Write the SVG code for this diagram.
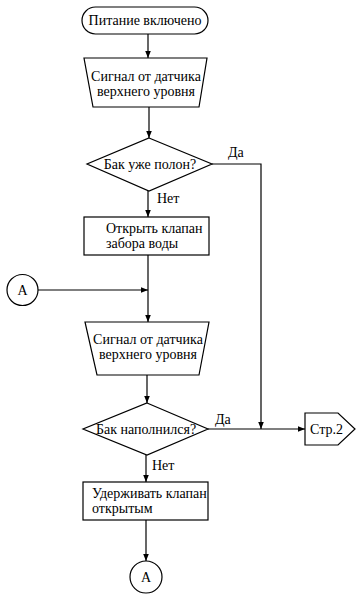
<svg xmlns="http://www.w3.org/2000/svg" width="360" height="600" viewBox="0 0 360 600">
<style>
.s{fill:#fff;stroke:#000;stroke-width:1.2}
.c{fill:none;stroke:#000;stroke-width:1.2}
.t{font-family:"Liberation Serif",serif;font-size:14px;fill:#000}
.m{text-anchor:middle}
</style>
<defs>
<marker id="ar" viewBox="0 0 10 10" refX="10" refY="5" markerWidth="7" markerHeight="7" markerUnits="userSpaceOnUse" orient="auto">
<path d="M0,1 L10,5 L0,9 Z" fill="#000"/>
</marker>
</defs>
<rect width="360" height="600" fill="#fff"/>
<g id="connectors">
<line class="c" x1="148" y1="34" x2="148" y2="58" marker-end="url(#ar)"/>
<line class="c" x1="149" y1="107" x2="149" y2="138" marker-end="url(#ar)"/>
<polyline class="c" points="212,164 261,164 261,429" marker-end="url(#ar)"/>
<line class="c" x1="148" y1="191" x2="148" y2="217" marker-end="url(#ar)"/>
<line class="c" x1="148" y1="255" x2="148" y2="322" marker-end="url(#ar)"/>
<line class="c" x1="38" y1="290" x2="148" y2="290" marker-end="url(#ar)"/>
<line class="c" x1="147" y1="375" x2="147" y2="403" marker-end="url(#ar)"/>
<line class="c" x1="208" y1="429" x2="305" y2="429" marker-end="url(#ar)"/>
<line class="c" x1="146" y1="455" x2="146" y2="482" marker-end="url(#ar)"/>
<line class="c" x1="146" y1="520" x2="146" y2="561" marker-end="url(#ar)"/>
<text class="t" x="228" y="157">Да</text>
<text class="t" x="157" y="203">Нет</text>
<text class="t" x="215" y="424">Да</text>
<text class="t" x="152" y="470">Нет</text>
</g>
<g id="start">
<rect class="s" x="82" y="7" width="126" height="27" rx="13.5"/>
<text class="t m" x="145" y="25">Питание включено</text>
</g>
<g id="input1">
<polygon class="s" points="84,58 207,58 199,107 93,107"/>
<text class="t m" x="146" y="81">Сигнал от датчика</text>
<text class="t m" x="146" y="96">верхнего уровня</text>
</g>
<g id="decision1">
<polygon class="s" points="149,138 212,164 149,191 87,164"/>
<text class="t m" x="150" y="169">Бак уже полон?</text>
</g>
<g id="open">
<rect class="s" x="84" y="217" width="125" height="38"/>
<text class="t" x="106" y="233">Открыть клапан</text>
<text class="t" x="106" y="248">забора воды</text>
</g>
<g id="connA_in">
<circle class="s" cx="22.5" cy="290" r="15.5"/>
<text class="t m" x="22.5" y="295">A</text>
</g>
<g id="input2">
<polygon class="s" points="85,322 209,322 199,375 97,375"/>
<text class="t m" x="148" y="344">Сигнал от датчика</text>
<text class="t m" x="148" y="359">верхнего уровня</text>
</g>
<g id="decision2">
<polygon class="s" points="147,403 208,429 147,455 83,429"/>
<text class="t m" x="146" y="434">Бак наполнился?</text>
</g>
<g id="page2">
<polygon class="s" points="305,413 338,413 355,429 338,445 305,445"/>
<text class="t" x="310" y="434">Стр.2</text>
</g>
<g id="hold">
<rect class="s" x="83" y="482" width="125" height="38"/>
<text class="t" x="92" y="498">Удерживать клапан</text>
<text class="t" x="92" y="513">открытым</text>
</g>
<g id="connA_out">
<circle class="s" cx="146" cy="577" r="16"/>
<text class="t m" x="146" y="582">A</text>
</g>
</svg>
